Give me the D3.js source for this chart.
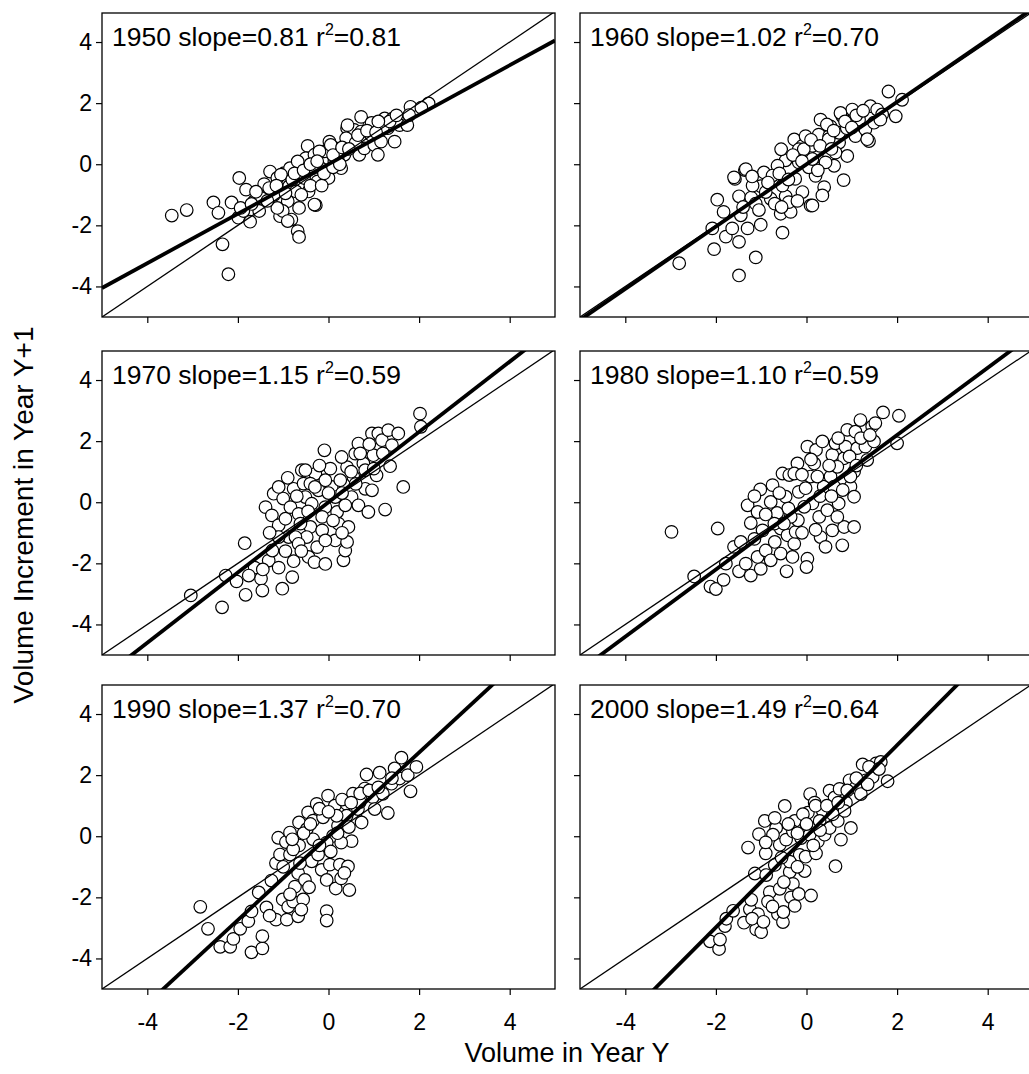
<!DOCTYPE html>
<html>
<head>
<meta charset="utf-8">
<script src="https://cdn.jsdelivr.net/npm/d3@7"></script>
<style>
  body { margin: 0; background: #fff; overflow: hidden; }
  text { font-family: "Liberation Sans", Arial, sans-serif; fill: #000; }
</style>
</head>
<body>
<div id="chart-container"></div>
<script>
// panel labels
var years = [1950, 1960, 1970, 1980, 1990, 2000];
var slopes = [0.81, 1.02, 1.15, 1.10, 1.37, 1.49];
var slopeLabels = ['0.81', '1.02', '1.15', '1.10', '1.37', '1.49'];
var r2Labels = ['0.81', '0.70', '0.59', '0.59', '0.70', '0.64'];
var tickValues = [-4, -2, 0, 2, 4];

// points: [volume in year Y, increment in year Y+1]
var pts1950 = [[-3.46,-1.68],[-3.13,-1.50],[-2.54,-1.25],[-2.43,-1.59],[-2.34,-2.62],[-2.21,-3.60],[-2.14,-1.25],[-1.97,-0.45],[-1.82,-0.83],[-1.99,-1.75],[-1.73,-1.88],[-1.88,-1.53],[-1.94,-1.43],[-1.64,-1.21],[-1.53,-1.53],[-1.42,-0.65],[-1.29,-0.24],[-1.20,-1.00],[-1.07,-1.70],[-0.98,-0.29],[-0.85,-0.13],[-0.87,-0.72],[-0.82,-1.81],[-0.68,-2.19],[-0.65,-2.38],[-0.65,-1.43],[-0.90,-1.21],[-0.72,-0.89],[-0.44,-0.89],[-0.28,-1.34],[-0.46,0.60],[-0.50,0.20],[-0.61,-0.34],[-0.31,0.31],[-0.17,-0.13],[-0.09,0.42],[0.02,0.74],[0.00,-0.45],[0.16,0.52],[0.28,-0.13],[0.13,0.09],[0.41,1.18],[0.57,1.12],[0.50,0.74],[0.68,0.31],[0.79,0.85],[0.90,1.28],[0.94,0.96],[0.79,0.52],[1.01,0.63],[1.16,0.74],[1.24,1.50],[1.31,1.18],[1.42,1.50],[1.46,0.74],[1.57,1.28],[1.74,1.28],[1.81,1.88],[1.78,1.61],[2.21,1.99],[2.05,1.85],[1.09,0.31],[0.72,1.55],[0.35,0.31],[-0.24,-0.56],[-1.13,-0.45],[-1.31,-0.78],[-1.49,-1.10],[-1.01,-1.53],[-0.54,-0.45],[-0.35,-0.13],[-0.90,-1.86],[-1.05,-0.34],[-0.68,0.09],[-1.13,-1.43],[-0.31,-1.32],[-0.20,0.42],[0.05,0.63],[0.39,0.85],[0.42,1.28],[0.72,1.07],[0.20,0.20],[0.60,0.70],[1.20,1.20],[-0.10,-0.30],[-0.80,-0.50],[0.95,1.35],[1.35,1.40],[-0.40,-0.70],[0.10,-0.10],[-1.60,-0.90],[-1.35,-1.20],[-1.15,-0.70],[-0.95,-0.95],[-0.75,-0.30],[-0.55,-0.20],[-0.40,0.00],[-0.25,0.10],[0.10,0.30],[0.30,0.55],[0.45,0.50],[0.65,0.95],[0.85,1.10],[1.05,1.05],[1.10,1.40],[1.50,1.60],[-1.70,-1.30],[-0.60,-1.00],[-0.15,-0.70],[0.25,0.00]];

var pts1960 = [[-2.81,-3.24],[-2.04,-2.78],[-2.08,-2.10],[-1.78,-2.37],[-1.49,-2.54],[-1.49,-3.64],[-1.12,-3.05],[-1.97,-1.16],[-1.83,-1.56],[-1.64,-2.10],[-1.58,-0.48],[-1.36,-0.19],[-1.49,-1.05],[-1.45,-1.67],[-1.30,-2.10],[-1.22,-1.09],[-1.01,-1.98],[-1.01,-0.72],[-1.12,-1.29],[-0.94,-0.27],[-0.75,-0.48],[-0.79,-1.13],[-0.70,-1.29],[-0.53,-2.24],[-0.57,-1.62],[-0.46,-1.05],[-0.46,0.13],[-0.35,-1.56],[-0.25,-0.48],[-0.09,-0.91],[0.09,-1.35],[-0.56,0.49],[-0.27,0.81],[-0.09,0.60],[-0.17,0.06],[0.02,0.27],[0.20,-0.38],[0.27,0.97],[0.39,-0.75],[0.35,-1.02],[0.27,0.27],[0.50,0.27],[0.61,-0.05],[0.72,0.71],[0.53,1.24],[0.79,1.57],[0.72,1.03],[0.82,-0.52],[0.90,0.27],[0.89,1.18],[1.01,1.79],[1.08,0.92],[1.16,1.46],[1.38,0.76],[1.30,1.14],[1.41,1.90],[1.56,1.79],[1.67,1.63],[1.49,1.36],[1.81,2.38],[1.97,1.57],[2.11,2.11],[0.31,1.46],[0.13,0.60],[-0.53,-0.70],[-0.90,-0.91],[-1.19,-0.70],[-0.39,-1.24],[0.05,-0.10],[0.50,0.92],[0.42,0.06],[-0.02,0.92],[-0.17,0.49],[-0.64,-0.05],[-1.60,-0.43],[-1.34,-0.16],[-0.75,-0.37],[-0.06,0.49],[0.13,0.17],[0.49,0.82],[0.64,0.38],[0.75,1.68],[1.34,0.82],[1.63,1.46],[0.13,-1.35],[-1.20,-0.40],[-1.05,-1.50],[-0.85,-0.60],[-0.60,-0.30],[-0.40,-0.50],[-0.30,0.30],[-0.10,0.10],[0.10,0.80],[0.30,0.60],[0.45,1.30],[0.60,1.10],[0.85,1.40],[1.10,1.60],[1.25,1.75],[0.25,-0.20],[-0.55,-1.40],[-1.40,-1.40],[-0.20,-1.20],[0.55,0.50],[1.00,1.20]];

var pts1970 = [[-3.04,-3.05],[-2.27,-2.40],[-2.35,-3.44],[-1.85,-1.34],[-2.03,-2.59],[-1.83,-3.03],[-1.63,-2.14],[-1.49,-2.50],[-1.46,-2.89],[-1.76,-2.40],[-1.32,-1.91],[-1.24,-1.58],[-1.10,-2.14],[-1.02,-2.83],[-0.80,-2.45],[-0.77,-1.93],[-1.39,-0.16],[-1.21,0.28],[-1.25,-0.43],[-1.00,0.12],[-1.10,-0.75],[-0.95,-0.54],[-0.77,0.44],[-0.84,-0.16],[-0.88,-1.14],[-0.66,-0.38],[-0.59,1.05],[-0.55,0.61],[-0.51,0.17],[-0.40,-0.81],[-0.44,-1.79],[-0.48,-1.14],[-0.31,-1.96],[-0.25,-1.47],[-0.14,-0.92],[-0.37,-0.05],[-0.29,0.93],[-0.22,0.39],[-0.09,1.70],[-0.07,-2.02],[-0.07,-0.16],[0.04,1.10],[0.07,0.50],[0.15,-1.25],[0.19,-0.32],[0.22,-0.70],[0.26,0.72],[0.33,-1.90],[0.37,-1.58],[0.41,-1.30],[0.41,1.15],[0.51,0.17],[0.55,0.83],[0.59,1.59],[0.66,-0.10],[0.66,1.92],[0.77,1.27],[0.81,0.44],[0.88,-0.32],[0.96,2.25],[0.99,1.54],[1.06,0.88],[1.10,2.25],[1.18,2.03],[1.25,-0.24],[1.32,2.36],[1.40,1.87],[1.36,1.18],[1.54,2.25],[1.65,0.50],[2.02,2.90],[2.04,2.47],[0.81,1.05],[0.29,1.48],[0.37,-0.10],[-0.14,-0.48],[-0.73,-1.14],[-0.62,-0.70],[-0.07,0.72],[-1.10,-1.14],[-0.66,-1.36],[-0.07,-1.25],[0.15,0.17],[-0.40,0.61],[-0.51,1.05],[0.44,-0.81],[0.96,0.39],[-1.10,0.50],[-0.90,0.80],[-0.70,0.20],[-0.30,0.50],[-0.20,1.20],[0.00,0.30],[0.30,0.30],[0.50,1.00],[0.70,1.60],[0.90,1.90],[1.20,1.60],[-1.30,-1.00],[-0.95,-1.60],[-0.60,-1.60],[0.10,-0.60],[0.30,-1.00],[0.60,0.60],[1.00,1.10],[-0.45,-0.30],[-1.45,-2.20]];

var pts1980 = [[-2.98,-0.97],[-1.96,-0.86],[-2.48,-2.43],[-2.12,-2.76],[-2.00,-2.84],[-1.83,-2.54],[-1.78,-2.01],[-1.60,-1.46],[-1.45,-1.30],[-1.49,-2.26],[-1.34,-2.01],[-1.23,-2.40],[-1.01,-2.18],[-1.08,-1.79],[-0.90,-1.58],[-0.79,-1.90],[-0.57,-1.68],[-0.44,-2.26],[-0.31,-1.79],[0.02,-1.85],[0.00,-2.12],[-1.30,-0.10],[-1.23,-0.68],[-1.08,-0.32],[-1.02,0.42],[-0.97,-0.92],[-0.79,0.01],[-0.75,0.56],[-0.65,-0.35],[-0.57,-0.86],[-0.53,0.94],[-0.46,0.18],[-0.42,-1.08],[-0.38,0.89],[-0.27,-1.36],[-0.24,-0.97],[-0.20,1.27],[-0.19,-0.59],[-0.17,0.34],[-0.02,0.46],[0.02,1.82],[0.09,0.84],[0.13,-0.04],[0.21,1.71],[0.28,-0.48],[0.31,-1.14],[0.35,1.99],[0.38,0.51],[0.42,-1.46],[0.46,-0.26],[0.53,0.84],[0.57,1.55],[0.57,-0.92],[0.64,1.93],[0.71,-0.04],[0.79,-1.41],[0.83,-0.81],[0.83,1.44],[0.86,1.82],[0.90,2.37],[0.97,0.51],[1.05,0.18],[1.05,-0.81],[1.08,2.31],[1.12,1.77],[1.19,2.69],[1.30,1.82],[1.34,1.38],[1.45,2.48],[1.52,2.59],[1.49,1.99],[1.69,2.94],[2.04,2.83],[2.00,1.93],[1.05,1.00],[0.68,1.16],[0.24,0.84],[-0.05,-0.15],[-0.35,-0.48],[-0.71,-0.70],[0.61,0.51],[0.17,1.27],[-0.27,0.94],[0.68,-0.48],[0.97,0.84],[-1.15,0.20],[-0.90,-0.40],[-0.60,0.30],[-0.40,-0.20],[-0.10,0.90],[0.10,1.40],[0.30,0.20],[0.50,1.20],[0.70,2.10],[0.95,1.50],[1.20,2.10],[1.40,2.20],[-1.15,-1.20],[-0.70,-1.30],[-0.10,-1.00],[0.20,-0.90],[0.55,0.20],[0.80,0.40],[-0.50,-0.70],[1.10,1.20]];

var pts1990 = [[-2.83,-2.31],[-2.66,-3.03],[-2.39,-3.62],[-2.17,-3.62],[-2.10,-3.36],[-1.95,-3.03],[-1.77,-2.78],[-1.70,-2.46],[-1.70,-3.80],[-1.46,-3.67],[-1.46,-3.27],[-1.54,-1.84],[-1.37,-2.33],[-1.26,-1.45],[-1.16,-2.73],[-1.16,-0.88],[-1.11,-0.05],[-1.07,-0.60],[-1.01,-2.07],[-0.94,-0.19],[-0.92,-2.73],[-0.89,-2.31],[-0.85,0.12],[-0.85,-0.60],[-0.78,-2.14],[-0.74,-1.65],[-0.67,-1.21],[-0.67,-2.62],[-0.65,-0.30],[-0.65,0.45],[-0.56,-2.07],[-0.52,-1.43],[-0.48,0.23],[-0.45,0.78],[-0.43,-1.67],[-0.37,-0.82],[-0.34,0.51],[-0.26,1.06],[-0.23,-0.60],[-0.15,-1.10],[-0.12,0.62],[-0.04,-1.43],[-0.04,-2.45],[-0.04,-2.76],[-0.01,1.33],[0.03,-0.93],[0.10,0.01],[0.14,1.00],[0.16,-1.71],[0.21,0.34],[0.25,-0.93],[0.28,-1.38],[0.40,1.06],[0.43,-0.99],[0.46,-1.76],[0.51,-0.16],[0.54,1.39],[0.62,0.56],[0.65,0.89],[0.73,0.45],[0.80,1.56],[0.84,2.02],[0.98,1.28],[1.02,0.89],[1.13,2.08],[1.20,1.39],[1.31,0.76],[1.39,1.72],[1.46,2.22],[1.57,1.89],[1.61,2.57],[1.75,2.00],[1.81,1.47],[1.94,2.27],[0.40,0.67],[0.28,-0.21],[-0.04,-0.21],[-0.34,-0.10],[-0.63,-0.88],[0.18,0.67],[0.69,1.12],[-0.78,-0.43],[-1.00,-1.00],[-0.80,-0.10],[-0.55,0.10],[-0.40,0.40],[-0.20,0.90],[0.00,0.80],[0.30,1.20],[0.50,1.10],[0.70,1.40],[0.90,1.50],[1.10,1.60],[0.20,0.10],[-0.20,-0.30],[-0.60,-2.40],[-0.85,-1.90],[-1.30,-2.60],[0.05,-0.50],[0.45,0.30],[1.40,1.90],[0.35,-1.20]];

var pts2000 = [[-2.13,-3.44],[-1.93,-3.69],[-1.91,-3.38],[-1.80,-2.94],[-1.77,-2.70],[-1.62,-2.44],[-1.38,-2.83],[-1.29,-0.37],[-1.25,-2.39],[-1.22,-2.08],[-1.11,-3.05],[-1.07,-2.55],[-1.14,-1.22],[-1.05,0.07],[-1.00,-3.14],[-0.92,0.50],[-0.90,-0.56],[-0.81,-1.83],[-0.85,-2.14],[-0.70,-0.94],[-0.67,0.27],[-0.63,-2.55],[-0.59,-1.72],[-0.59,-0.28],[-0.52,-2.81],[-0.51,-2.48],[-0.48,0.99],[-0.45,-0.11],[-0.37,-1.17],[-0.34,-2.00],[-0.30,-1.56],[-0.26,-2.28],[-0.26,0.50],[-0.17,-1.89],[-0.15,-0.61],[-0.12,-0.06],[-0.04,-1.14],[-0.02,-0.67],[0.03,0.77],[0.08,1.38],[0.10,-1.94],[0.12,0.27],[0.18,1.10],[0.21,-0.56],[0.25,-0.17],[0.36,0.83],[0.40,0.05],[0.51,0.27],[0.51,1.49],[0.62,1.27],[0.64,-0.98],[0.69,0.50],[0.73,1.55],[0.76,-0.11],[0.87,1.10],[0.95,1.83],[0.98,0.27],[1.09,1.60],[1.20,1.38],[1.24,2.35],[1.31,1.83],[1.46,1.94],[1.53,2.38],[1.64,2.43],[1.79,1.80],[1.38,2.27],[0.84,0.83],[0.29,0.50],[0.07,0.05],[-0.30,0.16],[-0.74,0.05],[-0.89,-1.27],[-0.37,-0.83],[-0.08,0.72],[0.58,0.72],[-0.90,-0.20],[-0.70,0.60],[-0.55,-0.70],[-0.40,0.40],[-0.20,0.10],[0.00,0.40],[0.20,1.00],[0.45,1.00],[0.70,1.10],[0.90,1.50],[1.10,1.90],[-0.50,-1.50],[-0.75,-2.30],[-0.20,-1.00],[0.30,0.20],[1.35,1.70],[-1.20,-2.70],[-0.95,-2.80],[0.15,-0.30],[1.60,2.20]];

var pointSets = [pts1950, pts1960, pts1970, pts1980, pts1990, pts2000];

document.addEventListener('DOMContentLoaded', function() {
  visualise();
});

function visualise() {
  const svgWidth = 1029;
  const svgHeight = 1074;

  // panel grid (2 columns x 3 rows)
  const colLeft = [102, 580];
  const rowTop = [13, 351, 685];
  const w = 453;
  const h = 304;

  const svg = d3.select('#chart-container')
    .append('svg')
    .attr('width', svgWidth)
    .attr('height', svgHeight);

  svg.append('rect')
    .attr('width', svgWidth)
    .attr('height', svgHeight)
    .attr('fill', '#fff');

  const x = d3.scaleLinear().domain([-5, 5]).range([0, w]);
  const y = d3.scaleLinear().domain([-5, 4.95]).range([h, 0]);

  const line = d3.line()
    .x(function(d) { return x(d[0]); })
    .y(function(d) { return y(d[1]); });

  years.forEach(function(year, i) {
    const col = i % 2;
    const row = Math.floor(i / 2);

    const g = svg.append('g')
      .attr('transform', 'translate(' + colLeft[col] + ',' + rowTop[row] + ')');

    g.append('clipPath')
      .attr('id', 'clip' + i)
      .append('rect')
      .attr('width', w)
      .attr('height', h);

    // axes: ticks on every panel, labels only on outer ones
    const ax = g.append('g')
      .attr('transform', 'translate(0,' + h + ')')
      .call(d3.axisBottom(x)
        .tickValues(tickValues)
        .tickSize(6)
        .tickSizeOuter(0)
        .tickPadding(19)
        .tickFormat(row === 2 ? d3.format('d') : ''));
    const ay = g.append('g')
      .call(d3.axisLeft(y)
        .tickValues(tickValues)
        .tickSize(6)
        .tickSizeOuter(0)
        .tickPadding(4)
        .tickFormat(col === 0 ? d3.format('d') : ''));

    [ax, ay].forEach(function(a) {
      a.select('.domain').remove();
      a.attr('font-family', null).attr('font-size', null);
      a.selectAll('.tick line').attr('stroke', '#000').attr('stroke-width', 1.2);
      a.selectAll('.tick text')
        .attr('font-size', 23)
        .attr('fill', '#000')
        .text(function(d) { return d3.select(this).text().replace('−', '-'); });
    });

    const plot = g.append('g').attr('clip-path', 'url(#clip' + i + ')');

    plot.selectAll('circle')
      .data(pointSets[i])
      .enter()
      .append('circle')
      .attr('cx', function(d) { return x(d[0]); })
      .attr('cy', function(d) { return y(d[1]); })
      .attr('r', 6.3)
      .attr('fill', '#fff')
      .attr('stroke', '#000')
      .attr('stroke-width', 1.2);

    // 1:1 line
    plot.append('path')
      .datum([[-5, -5], [5, 5]])
      .attr('fill', 'none')
      .attr('stroke', '#000')
      .attr('stroke-width', 1.3)
      .attr('d', line);

    // fitted regression line
    plot.append('path')
      .datum([[-5, -5 * slopes[i]], [5, 5 * slopes[i]]])
      .attr('fill', 'none')
      .attr('stroke', '#000')
      .attr('stroke-width', 3.8)
      .attr('d', line);

    g.append('rect')
      .attr('width', w)
      .attr('height', h)
      .attr('fill', 'none')
      .attr('stroke', '#000')
      .attr('stroke-width', 1.3);

    const title = g.append('text')
      .attr('x', 10)
      .attr('y', 33)
      .attr('font-size', 26.5);
    title.append('tspan').text(year + ' slope=' + slopeLabels[i] + ' r');
    title.append('tspan').attr('font-size', 16).attr('dy', -11).text('2');
    title.append('tspan').attr('dy', 11).text('=' + r2Labels[i]);
  });

  svg.append('text')
    .attr('x', 567)
    .attr('y', 1062)
    .attr('text-anchor', 'middle')
    .attr('font-size', 27)
    .text('Volume in Year Y');

  svg.append('text')
    .attr('transform', 'translate(33,515) rotate(-90)')
    .attr('text-anchor', 'middle')
    .attr('font-size', 28)
    .text('Volume Increment in Year Y+1');
}
</script>
</body>
</html>
